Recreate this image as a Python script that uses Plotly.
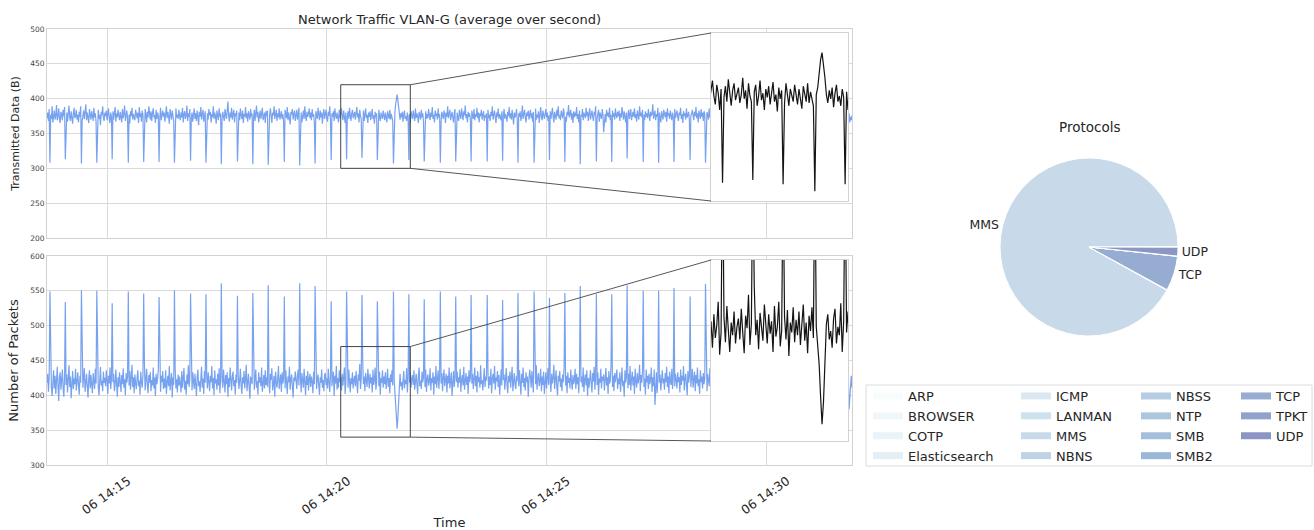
import pandas as pd
import plotly.graph_objects as go

# ---------------- data ----------------
START = "2021-07-06 14:13:38"
ZOOM_START = "2021-07-06 14:20:19"
ZOOM_END = "2021-07-06 14:21:54"
TICK0 = "2021-07-06 14:15:00"

tx_bytes = [
372, 380, 368, 385, 308, 377, 371, 389, 366, 379, 383, 370, 376, 391, 369, 374, 386, 372, 365, 381,
378, 369, 384, 375, 388, 313, 371, 380, 367, 377, 390, 373, 368, 382, 376, 364, 379, 387, 372, 375,
384, 370, 377, 366, 381, 374, 389, 307, 368, 376, 383, 371, 378, 392, 369, 380, 373, 365, 385, 377,
370, 382, 375, 368, 387, 373, 379, 366, 308, 374, 384, 371, 377, 362, 381, 376, 389, 372, 368, 380,
375, 383, 369, 378, 386, 371, 365, 380, 374, 313, 382, 370, 377, 388, 367, 379, 373, 384, 376, 369,
381, 374, 366, 385, 372, 379, 390, 368, 376, 383, 371, 308, 377, 364, 382, 375, 387, 370, 378, 373,
369, 384, 376, 372, 380, 365, 388, 374, 379, 367, 383, 377, 309, 371, 385, 378, 366, 381, 373, 389,
376, 370, 382, 368, 379, 386, 373, 377, 365, 384, 371, 380, 375, 309, 372, 387, 369, 378, 383, 374,
380, 367, 376, 389, 372, 381, 374, 364, 385, 378, 370, 383, 376, 368, 308, 379, 386, 373, 377, 371,
384, 375, 369, 380, 373, 387, 366, 378, 382, 371, 376, 390, 368, 379, 374, 385, 311, 372, 380, 367,
377, 386, 371, 379, 368, 383, 375, 362, 381, 374, 388, 370, 378, 384, 367, 376, 382, 308, 373, 379,
370, 385, 376, 381, 366, 378, 373, 389, 371, 380, 375, 364, 383, 377, 369, 386, 374, 379, 306, 372,
381, 374, 368, 385, 377, 371, 382, 396, 375, 367, 380, 373, 387, 370, 378, 384, 366, 379, 375, 383,
310, 373, 380, 369, 386, 376, 371, 383, 365, 378, 374, 388, 372, 379, 367, 382, 376, 370, 385, 374,
379, 306, 372, 384, 368, 377, 390, 373, 381, 366, 376, 383, 371, 378, 387, 369, 374, 380, 365, 382,
375, 383, 305, 370, 378, 386, 372, 365, 380, 376, 389, 371, 377, 384, 368, 379, 373, 386, 370, 377,
382, 371, 378, 367, 309, 384, 376, 372, 388, 369, 380, 374, 363, 381, 377, 385, 370, 378, 383, 368,
376, 384, 370, 379, 387, 304, 373, 380, 366, 377, 383, 371, 389, 375, 368, 381, 374, 379, 386, 372,
380, 369, 385, 374, 378, 366, 307, 382, 375, 371, 387, 376, 369, 383, 373, 380, 364, 378, 385, 371,
377, 384, 372, 367, 381, 375, 389, 370, 312, 379, 374, 382, 368, 386, 376, 371, 380, 373, 366, 384,
372, 379, 386, 375, 369, 383, 377, 365, 380, 313, 374, 382, 371, 387, 376, 368, 379, 384, 372, 377,
381, 370, 376, 388, 373, 379, 366, 384, 375, 371, 315, 378, 383, 368, 375, 386, 372, 377, 365, 380,
374, 382, 369, 377, 385, 371, 376, 364, 381, 373, 379, 312, 370, 384, 375, 368, 380, 376, 371, 383,
377, 369, 380, 374, 366, 382, 375, 371, 384, 370, 378, 373, 368, 307, 376, 381, 392, 401, 406, 398,
388, 376, 370, 379, 373, 381, 367, 377, 383, 371, 375, 368, 380, 374, 312, 378, 365, 382, 376, 371,
383, 374, 368, 386, 372, 379, 375, 365, 381, 377, 370, 384, 373, 379, 367, 310, 376, 382, 371, 378,
372, 385, 376, 369, 380, 374, 388, 371, 377, 366, 383, 375, 379, 370, 386, 373, 378, 308, 367, 381,
376, 371, 383, 378, 365, 380, 374, 389, 372, 377, 384, 369, 375, 381, 373, 366, 379, 385, 310, 374,
380, 373, 368, 384, 377, 371, 386, 375, 369, 382, 376, 390, 372, 378, 366, 381, 374, 379, 370, 310,
383, 376, 371, 385, 369, 378, 374, 387, 372, 380, 366, 379, 375, 384, 370, 377, 382, 368, 376, 373,
379, 310, 384, 372, 377, 368, 381, 375, 389, 370, 376, 383, 373, 365, 380, 374, 386, 371, 378, 375,
369, 382, 311, 376, 385, 371, 378, 374, 367, 381, 375, 388, 372, 379, 370, 384, 376, 363, 380, 373,
377, 385, 370, 308, 379, 374, 382, 368, 376, 390, 371, 378, 384, 373, 366, 380, 375, 383, 370, 377,
384, 372, 379, 367, 381, 308, 375, 386, 370, 377, 373, 382, 365, 379, 388, 374, 369, 383, 376, 371,
378, 385, 373, 380, 368, 376, 312, 382, 371, 379, 387, 374, 366, 381, 377, 370, 384, 375, 389, 372,
376, 369, 383, 377, 372, 386, 380, 309, 374, 367, 381, 376, 391, 373, 378, 384, 370, 379, 365, 382,
373, 380, 375, 388, 371, 378, 366, 383, 306, 377, 374, 385, 369, 380, 376, 372, 387, 375, 381, 368,
379, 386, 370, 377, 383, 374, 368, 381, 376, 389, 310, 372, 378, 384, 367, 380, 375, 371, 385, 377,
352, 371, 378, 366, 384, 375, 380, 373, 387, 369, 377, 309, 383, 374, 379, 370, 386, 376, 372, 381,
375, 383, 368, 379, 373, 388, 377, 370, 382, 375, 366, 380, 314, 376, 384, 371, 378, 385, 369, 377,
381, 374, 386, 372, 378, 367, 383, 376, 370, 389, 375, 380, 373, 384, 309, 377, 369, 382, 374, 379,
372, 385, 377, 368, 381, 375, 379, 392, 371, 376, 383, 369, 378, 374, 387, 308, 380, 373, 366, 382,
376, 370, 384, 378, 373, 381, 367, 386, 375, 379, 371, 383, 377, 369, 380, 374, 309, 385, 372, 378,
383, 374, 368, 380, 376, 387, 371, 378, 365, 382, 375, 379, 370, 386, 373, 377, 381, 369, 312, 376,
378, 384, 373, 369, 381, 375, 388, 372, 379, 366, 383, 376, 371, 385, 374, 380, 368, 382, 377, 308,
374, 381, 377, 370, 386, 373, 379, 367, 384, 376, 371, 382, 375, 388, 369, 378, 373, 380, 366, 383,
311, 376, 383, 371, 379, 374, 386, 368, 380, 377, 372, 385, 375, 369, 382, 378, 373, 387, 370, 379,
384, 372, 309, 378, 375, 382, 369, 386, 376, 371, 380, 374, 389, 377, 367, 383, 375, 379, 372, 385,
373, 380, 376, 307, 384, 370, 378, 374, 387, 369, 381, 376, 372, 383, 366, 379, 385, 374, 380, 371,
377, 386, 372, 379, 312, 375, 382, 368, 376, 384, 371, 378, 373, 388, 370, 381, 377, 365, 383, 375,
380, 371, 384, 376, 369, 310, 378, 386, 374, 372, 381, 377, 368, 383, 375, 389, 371, 379, 374, 382,
374, 383, 377, 370, 385, 373, 379, 308, 381, 376, 367, 384, 372, 378, 386, 375, 370, 382, 377, 373,
381, 376, 369, 384, 378, 372, 387, 375, 311, 379, 374, 382, 370, 377, 385, 368, 380, 376, 383, 371,
377, 385, 373, 380, 366, 382, 376, 371, 384, 309, 378, 374, 388, 372, 379, 369, 381, 375, 383, 370,
382, 375, 379, 371, 386, 374, 368, 381, 377, 384, 372, 310, 376, 383, 370, 379, 366, 374, 369, 376,
]

n_packets = [
418, 431, 405, 426, 549, 452, 412, 399, 423, 436, 410, 428, 402, 417, 441, 414, 392, 425, 433, 408,
421, 437, 411, 398, 426, 534, 415, 430, 404, 419, 443, 412, 427, 396, 420, 435, 409, 424, 416, 438,
407, 422, 433, 414, 401, 428, 418, 551, 456, 411, 426, 439, 405, 419, 431, 413, 397, 424, 436, 410,
429, 415, 403, 432, 420, 409, 438, 417, 550, 423, 412, 400, 427, 441, 414, 421, 406, 434, 418, 425,
413, 436, 421, 402, 428, 417, 440, 409, 424, 532, 419, 431, 406, 415, 437, 422, 398, 426, 412, 433,
420, 405, 429, 416, 439, 411, 423, 400, 432, 418, 427, 549, 414, 435, 408, 421, 444, 412, 426, 403,
430, 417, 409, 425, 436, 413, 421, 401, 434, 419, 411, 428, 546, 446, 407, 423, 438, 415, 403, 429,
418, 433, 406, 422, 414, 440, 410, 426, 399, 431, 416, 424, 437, 541, 412, 405, 428, 419, 435, 409,
424, 411, 436, 402, 419, 428, 413, 442, 407, 421, 432, 397, 426, 415, 551, 438, 410, 423, 404, 430,
414, 427, 419, 404, 435, 411, 425, 439, 408, 421, 401, 430, 416, 443, 412, 424, 546, 418, 407, 433,
422, 409, 431, 417, 399, 426, 437, 413, 420, 405, 429, 441, 411, 424, 402, 435, 418, 545, 427, 410,
433, 415, 406, 428, 419, 442, 410, 425, 400, 436, 417, 423, 408, 431, 414, 439, 403, 421, 561, 426,
411, 437, 420, 404, 429, 416, 433, 398, 425, 412, 440, 419, 407, 427, 434, 413, 422, 401, 430, 418,
543, 428, 409, 421, 438, 414, 402, 426, 417, 435, 410, 423, 444, 406, 419, 431, 412, 395, 427, 420,
416, 547, 430, 408, 424, 437, 411, 420, 401, 433, 418, 426, 413, 440, 405, 422, 429, 410, 436, 415,
426, 412, 558, 419, 403, 431, 422, 439, 407, 416, 428, 398, 434, 420, 411, 425, 442, 409, 418, 430,
405, 433, 417, 424, 542, 410, 436, 415, 402, 427, 419, 441, 408, 423, 430, 413, 397, 426, 420, 434,
418, 409, 429, 437, 414, 561, 425, 404, 432, 419, 411, 438, 422, 400, 428, 415, 435, 407, 424, 431,
412, 427, 420, 403, 434, 416, 557, 441, 409, 423, 430, 414, 401, 426, 418, 437, 411, 422, 406, 429,
432, 415, 424, 410, 438, 419, 405, 427, 535, 413, 421, 434, 399, 428, 417, 442, 408, 425, 411, 436,
419, 426, 407, 431, 414, 423, 440, 402, 418, 549, 429, 411, 437, 420, 404, 425, 416, 433, 410, 422,
428, 413, 435, 418, 403, 430, 421, 445, 409, 424, 544, 451, 416, 427, 406, 432, 419, 412, 438, 423,
410, 431, 417, 426, 404, 437, 415, 422, 440, 408, 419, 535, 429, 413, 434, 401, 425, 418, 436, 411,
427, 416, 433, 409, 421, 438, 412, 425, 403, 430, 419, 436, 414, 549, 422, 407, 395, 372, 352, 368,
392, 424, 431, 413, 419, 407, 428, 435, 410, 422, 416, 439, 404, 426, 545, 418, 433, 411, 424, 429,
415, 436, 408, 423, 431, 417, 402, 428, 440, 413, 421, 409, 434, 419, 426, 538, 412, 437, 405, 424,
430, 414, 421, 439, 407, 425, 418, 433, 401, 427, 416, 442, 411, 423, 436, 409, 428, 549, 417, 432,
406, 425, 437, 413, 420, 431, 404, 428, 417, 440, 410, 424, 433, 399, 421, 435, 412, 426, 542, 419,
434, 411, 426, 418, 438, 405, 423, 429, 414, 441, 408, 420, 432, 415, 427, 402, 436, 419, 425, 544,
417, 431, 409, 424, 440, 413, 428, 404, 435, 419, 426, 411, 443, 416, 422, 407, 430, 439, 412, 427,
421, 544, 433, 410, 427, 415, 438, 403, 424, 431, 417, 442, 408, 426, 420, 435, 412, 429, 401, 418,
437, 414, 537, 422, 430, 408, 425, 439, 416, 403, 428, 419, 434, 411, 426, 441, 406, 423, 432, 415,
409, 428, 420, 547, 413, 436, 424, 401, 431, 418, 440, 412, 425, 407, 433, 419, 427, 398, 422, 437,
426, 411, 435, 419, 404, 549, 430, 416, 443, 408, 424, 432, 413, 420, 438, 406, 427, 415, 434, 402,
418, 433, 410, 427, 439, 415, 540, 421, 405, 431, 417, 426, 444, 409, 423, 436, 412, 400, 428, 420,
435, 412, 424, 406, 430, 419, 441, 547, 414, 428, 403, 433, 418, 425, 410, 437, 421, 408, 429, 416,
422, 438, 409, 431, 416, 426, 403, 434, 557, 419, 427, 412, 440, 405, 423, 430, 414, 436, 399, 425,
411, 429, 436, 417, 404, 432, 420, 441, 408, 426, 545, 415, 433, 401, 424, 418, 438, 410, 427, 421,
430, 407, 423, 439, 414, 426, 402, 435, 417, 421, 443, 545, 412, 428, 406, 432, 419, 425, 437, 409,
424, 416, 433, 405, 428, 440, 413, 421, 398, 436, 418, 426, 558, 410, 431, 415, 442, 407, 423, 434,
414, 427, 402, 438, 420, 411, 432, 417, 425, 444, 406, 429, 418, 435, 550, 412, 424, 401, 437, 419,
428, 409, 431, 416, 423, 440, 405, 426, 413, 437, 386, 411, 433, 403, 425, 550, 418, 430, 407, 421,
436, 417, 424, 408, 432, 419, 441, 412, 427, 403, 434, 420, 415, 438, 409, 426, 554, 413, 431, 422,
410, 433, 419, 426, 404, 437, 415, 428, 421, 442, 407, 424, 431, 414, 400, 435, 418, 427, 542, 412,
425, 438, 411, 420, 434, 406, 429, 417, 440, 413, 423, 402, 436, 419, 427, 410, 432, 416, 424, 560,
419, 406, 431, 424, 413, 439, 418, 427, 401, 434, 421, 412, 437, 408, 426, 443, 415, 422, 430, 409,
548, 428, 414, 435, 420, 407, 432, 425, 411, 438, 416, 423, 404, 430, 419, 441, 412, 427, 436, 405,
422, 433, 543, 417, 426, 409, 440, 413, 428, 420, 435, 402, 424, 431, 415, 438, 406, 429, 418, 432,
411, 425, 434, 551, 419, 430, 408, 437, 416, 423, 442, 410, 428, 421, 404, 433, 417, 426, 439, 413,
429, 416, 421, 438, 546, 412, 427, 419, 435, 403, 431, 424, 414, 440, 409, 425, 432, 418, 401, 436,
420, 434, 407, 426, 417, 539, 431, 413, 439, 422, 408, 428, 436, 415, 424, 411, 443, 419, 427, 406,
433, 412, 425, 418, 437, 405, 429, 552, 421, 414, 430, 409, 426, 441, 417, 423, 435, 402, 428, 419,
415, 428, 436, 410, 424, 431, 419, 442, 547, 413, 427, 420, 404, 433, 418, 437, 411, 425, 430, 416,
427, 409, 423, 434, 416, 440, 412, 429, 419, 544, 425, 406, 432, 418, 438, 414, 421, 430, 403, 426,
418, 431, 414, 426, 439, 410, 423, 437, 415, 428, 420, 550, 433, 412, 425, 380, 396, 419, 428, 411,
]

assert len(tx_bytes) == len(n_packets), (len(tx_bytes), len(n_packets))

protocols = ["ARP", "BROWSER", "COTP", "Elasticsearch", "ICMP", "LANMAN", "MMS",
             "NBNS", "NBSS", "NTP", "SMB", "SMB2", "TCP", "TPKT", "UDP"]
protocol_share = [0.03, 0.01, 0.05, 0.02, 0.01, 0.01, 92.0,
                  0.02, 0.01, 0.02, 0.01, 0.03, 6.3, 0.05, 1.6]
pie_labels_shown = ["MMS", "TCP", "UDP"]

tx_range = [200, 500]
pk_range = [300, 600]
tx_zoom_range = [300, 420]
pk_zoom_range = [340, 470]

# ---------------- styles ----------------
protocol_colors = ["#f7fcfd", "#f0f7fa", "#eaf3f8", "#e3eef5", "#dbe8f2", "#cee1ee",
                   "#c8dae9", "#bfd3e6", "#b6cce3", "#acc6df", "#a3bfdc", "#9bb7d7",
                   "#96acd1", "#91a1cc", "#8c96c6"]
FONT = "DejaVu Sans"
TXT = "#262626"
TICKC = "#444444"
GRID = "#dadada"
FRAME = "#d2d2d2"
BLUE = "rgba(100,149,237,0.88)"
ZOOMC = "#444444"

W, H = 1314, 530
def fx(p):
    return p / W
def fy(p):
    return 1 - p / H

main_x = [fx(47), fx(852)]
top_y = [fy(238), fy(29)]
bot_y = [fy(465), fy(256)]
inset_x = [fx(711), fx(848)]
top_inset_y = [fy(201), fy(33)]
bot_inset_y = [fy(441), fy(260)]

times = pd.date_range(START, periods=len(tx_bytes), freq="s")

fig = go.Figure()
fig.add_trace(go.Scatter(x=times, y=tx_bytes, mode="lines", line=dict(color=BLUE, width=1.2),
                         xaxis="x", yaxis="y", showlegend=False, hoverinfo="skip"))
fig.add_trace(go.Scatter(x=times, y=n_packets, mode="lines", line=dict(color=BLUE, width=1.2),
                         xaxis="x2", yaxis="y2", showlegend=False, hoverinfo="skip"))
fig.add_trace(go.Scatter(x=times, y=tx_bytes, mode="lines", line=dict(color="rgba(0,0,0,0.92)", width=1.2),
                         xaxis="x3", yaxis="y3", showlegend=False, hoverinfo="skip"))
fig.add_trace(go.Scatter(x=times, y=n_packets, mode="lines", line=dict(color="rgba(0,0,0,0.92)", width=1.2),
                         xaxis="x4", yaxis="y4", showlegend=False, hoverinfo="skip"))

pie_text = [p if p in pie_labels_shown else "" for p in protocols]
fig.add_trace(go.Pie(labels=protocols, values=protocol_share, sort=False,
                     direction="counterclockwise", rotation=90,
                     marker=dict(colors=protocol_colors, line=dict(color="white", width=1)),
                     text=pie_text, textinfo="text", textposition="outside",
                     textfont=dict(size=12.5, color=TXT), showlegend=False, hoverinfo="skip",
                     domain=dict(x=[fx(954), fx(1224)], y=[fy(336), fy(158)])))

# legend entries (4 columns, column-major like the reference)
legend_x_px = [868, 1016, 1136, 1236]
for i, (name, col) in enumerate(zip(protocols, protocol_colors)):
    c = i // 4
    lg = "legend" if c == 0 else f"legend{c + 1}"
    fig.add_trace(go.Scatter(x=[None], y=[None], mode="lines", line=dict(color=col, width=7),
                             name=name, legend=lg, xaxis="x", yaxis="y", hoverinfo="skip"))

common = dict(showline=True, mirror=True, linecolor=FRAME, linewidth=1, gridcolor=GRID,
              gridwidth=1, zeroline=False, ticks="", automargin=False)
inset_common = dict(showline=True, mirror=True, linecolor=FRAME, linewidth=1, showgrid=False,
                    zeroline=False, ticks="", showticklabels=False, automargin=False)

legend_common = dict(orientation="v", xanchor="left", yanchor="top", bgcolor="rgba(0,0,0,0)",
                     borderwidth=0, font=dict(family=FONT, size=13, color=TXT), tracegroupgap=0,
                     itemclick=False, itemdoubleclick=False)
legends = {}
for c in range(4):
    key = "legend" if c == 0 else f"legend{c + 1}"
    legends[key] = dict(x=fx(legend_x_px[c]), y=fy(381), **legend_common)

def paper_x_of(ts):
    frac = (pd.Timestamp(ts) - times[0]) / (times[-1] - times[0])
    return main_x[0] + frac * (main_x[1] - main_x[0])

def paper_y_of(v, rng, dom):
    return dom[0] + (v - rng[0]) / (rng[1] - rng[0]) * (dom[1] - dom[0])

box_r = paper_x_of(ZOOM_END)
shapes = [
    dict(type="rect", xref="x", yref="y", x0=ZOOM_START, x1=ZOOM_END,
         y0=tx_zoom_range[0], y1=tx_zoom_range[1], line=dict(color=ZOOMC, width=1), layer="above"),
    dict(type="rect", xref="x2", yref="y2", x0=ZOOM_START, x1=ZOOM_END,
         y0=pk_zoom_range[0], y1=pk_zoom_range[1], line=dict(color=ZOOMC, width=1), layer="above"),
    dict(type="rect", xref="x3", yref="y3", x0=ZOOM_START, x1=ZOOM_END,
         y0=tx_zoom_range[0], y1=tx_zoom_range[1], fillcolor="white", line=dict(width=0), layer="below"),
    dict(type="rect", xref="x4", yref="y4", x0=ZOOM_START, x1=ZOOM_END,
         y0=pk_zoom_range[0], y1=pk_zoom_range[1], fillcolor="white", line=dict(width=0), layer="below"),
    # connectors
    dict(type="line", xref="paper", yref="paper", x0=box_r, y0=paper_y_of(tx_zoom_range[1], tx_range, top_y),
         x1=inset_x[0], y1=top_inset_y[1], line=dict(color=ZOOMC, width=0.9)),
    dict(type="line", xref="paper", yref="paper", x0=box_r, y0=paper_y_of(tx_zoom_range[0], tx_range, top_y),
         x1=inset_x[0], y1=top_inset_y[0], line=dict(color=ZOOMC, width=0.9)),
    dict(type="line", xref="paper", yref="paper", x0=box_r, y0=paper_y_of(pk_zoom_range[1], pk_range, bot_y),
         x1=inset_x[0], y1=bot_inset_y[1], line=dict(color=ZOOMC, width=0.9)),
    dict(type="line", xref="paper", yref="paper", x0=box_r, y0=paper_y_of(pk_zoom_range[0], pk_range, bot_y),
         x1=inset_x[0], y1=bot_inset_y[0], line=dict(color=ZOOMC, width=0.9)),
    # legend frame
    dict(type="rect", xref="paper", yref="paper", x0=fx(866), x1=fx(1312), y0=fy(466), y1=fy(385),
         line=dict(color="#dcdcdc", width=1), fillcolor="rgba(0,0,0,0)", layer="above"),
]

fig.update_layout(
    width=W, height=H, margin=dict(l=0, r=0, t=0, b=0),
    paper_bgcolor="white", plot_bgcolor="white",
    font=dict(family=FONT, color=TXT),
    title=dict(text="Network Traffic VLAN-G (average over second)", x=fx(449.5), xanchor="center",
               y=fy(19), yanchor="middle", font=dict(size=13, color=TXT)),
    xaxis=dict(domain=main_x, anchor="y", type="date", range=[times[0], times[-1]],
               tick0=TICK0, dtick=300000, showticklabels=False, **common),
    yaxis=dict(domain=top_y, anchor="x", range=tx_range, tick0=0, dtick=50,
               tickfont=dict(size=7.5, color=TICKC),
               title=dict(text="Transmitted Data (B)", font=dict(size=11, color=TXT), standoff=8), **common),
    xaxis2=dict(domain=main_x, anchor="y2", type="date", range=[times[0], times[-1]],
                tick0=TICK0, dtick=300000, tickformat="%d %H:%M", tickangle=-35,
                tickfont=dict(size=12.5, color=TXT), ticklabelshift=21, ticklabelstandoff=3,
                title=dict(text="Time", font=dict(size=13, color=TXT), standoff=16), **common),
    yaxis2=dict(domain=bot_y, anchor="x2", range=pk_range, tick0=0, dtick=50,
                tickfont=dict(size=7.5, color=TICKC),
                title=dict(text="Number of Packets", font=dict(size=13, color=TXT), standoff=8), **common),
    xaxis3=dict(domain=inset_x, anchor="y3", type="date", range=[ZOOM_START, ZOOM_END], **inset_common),
    yaxis3=dict(domain=top_inset_y, anchor="x3", range=tx_zoom_range, **inset_common),
    xaxis4=dict(domain=inset_x, anchor="y4", type="date", range=[ZOOM_START, ZOOM_END], **inset_common),
    yaxis4=dict(domain=bot_inset_y, anchor="x4", range=pk_zoom_range, **inset_common),
    shapes=shapes,
    annotations=[dict(text="Protocols", xref="paper", yref="paper", x=fx(1089), y=fy(127),
                      xanchor="center", yanchor="middle",
                      showarrow=False, font=dict(size=13.5, color=TXT))],
    **legends,
)

fig.write_html("out.html", config={"displayModeBar": False},
               post_script="document.body.style.margin='0px';")
